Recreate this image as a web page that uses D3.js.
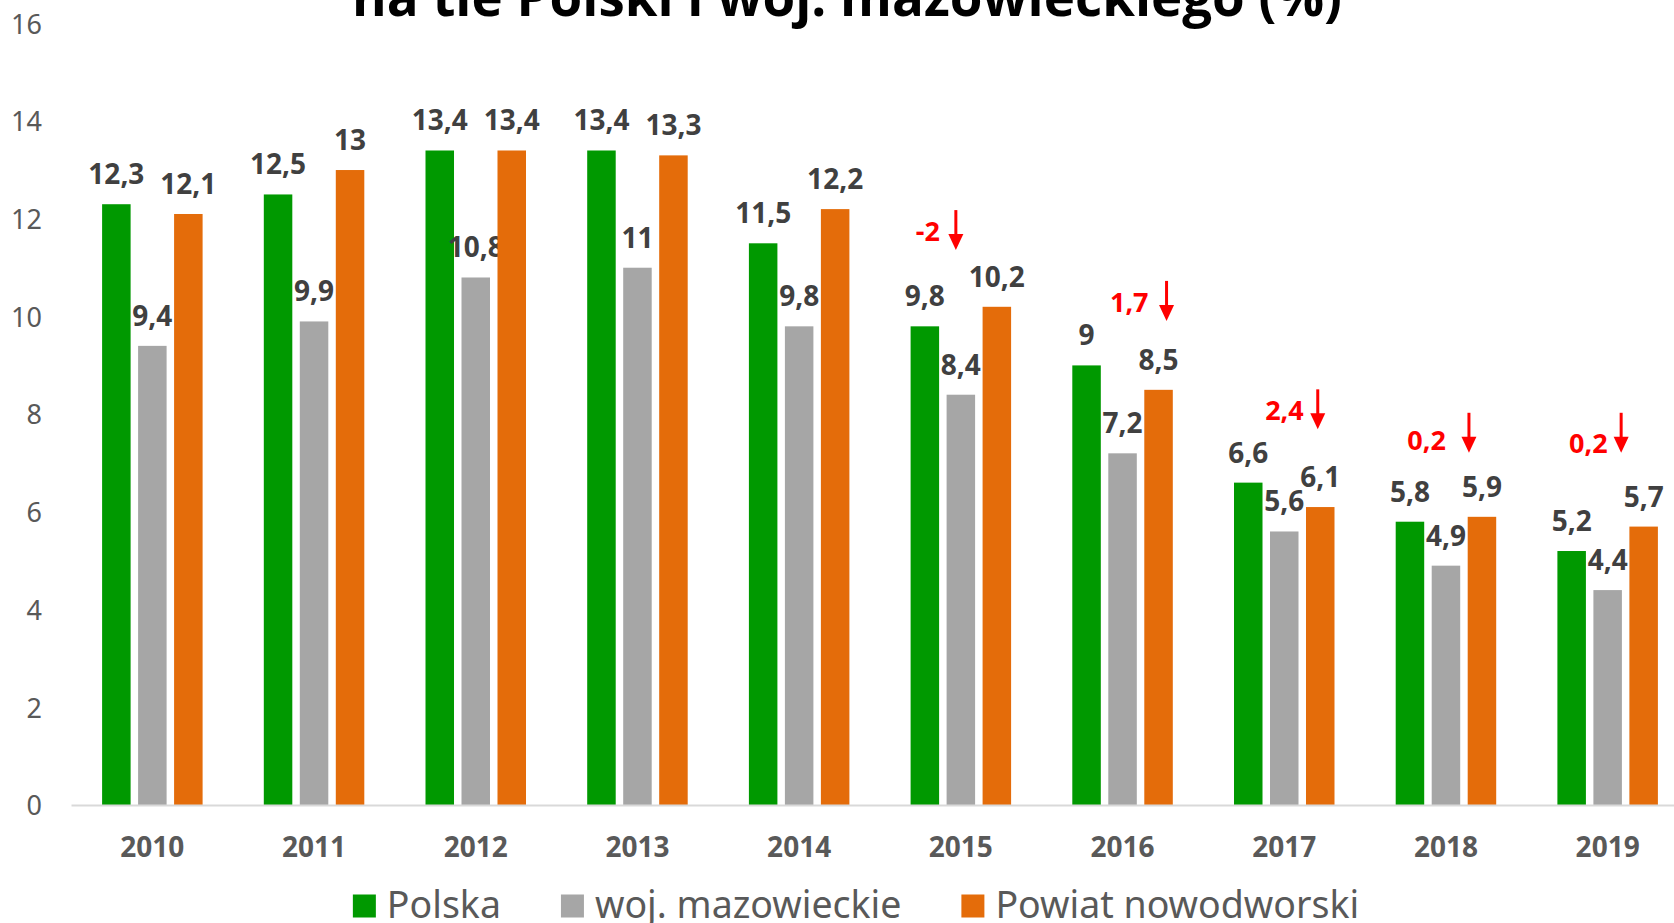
<!DOCTYPE html>
<html>
<head>
<meta charset="utf-8">
<script src="https://cdn.jsdelivr.net/npm/d3@7"></script>
<style>
  html, body { margin: 0; padding: 0; background: #fff; overflow: hidden; }
  svg { display: block; }
</style>
</head>
<body>
<div id="chart"></div>
<script>
// Chart values
const years = ["2010", "2011", "2012", "2013", "2014", "2015", "2016", "2017", "2018", "2019"];
const seriesNames = ["Polska", "woj. mazowieckie", "Powiat nowodworski"];
const polska = [12.3, 12.5, 13.4, 13.4, 11.5, 9.8, 9, 6.6, 5.8, 5.2];
const mazowieckie = [9.4, 9.9, 10.8, 11, 9.8, 8.4, 7.2, 5.6, 4.9, 4.4];
const nowodworski = [12.1, 13, 13.4, 13.3, 12.2, 10.2, 8.5, 6.1, 5.9, 5.7];
const yTicks = [0, 2, 4, 6, 8, 10, 12, 14, 16];

// Year-on-year drop of the county rate, marked with red arrows
const annoYears = ["2015", "2016", "2017", "2018", "2019"];
const annoLabels = ["-2", "1,7", "2,4", "0,2", "0,2"];
const annoTop = [12.18, 10.73, 8.51, 8.03, 8.03];

const titleText = "na tle Polski i woj. mazowieckiego (%)";

const colors = ["#009900", "#a6a6a6", "#e46c0a"];
const seriesValues = [polska, mazowieckie, nowodworski];

const width = 1674;
const height = 923;

const svg = d3.select("#chart")
  .append("svg")
  .attr("width", width)
  .attr("height", height);

const fmt = (v) => String(v).replace(".", ",");

// Scales
const x0 = d3.scaleBand()
  .domain(years)
  .range([71.5, 71.5 + 161.7 * years.length]);

const x1 = d3.scaleBand()
  .domain(seriesNames)
  .range([-50.25, 50.25])
  .paddingInner(0.208);

const y = d3.scaleLinear()
  .domain([0, 16])
  .range([805, 23.5]);

const center = (yr) => x0(yr) + x0.bandwidth() / 2;

// Title (only its last line is inside the frame)
svg.append("text")
  .attr("x", 847)
  .attr("y", 16)
  .attr("text-anchor", "middle")
  .attr("textLength", 990)
  .attr("lengthAdjust", "spacingAndGlyphs")
  .style("font-family", "'Open Sans', sans-serif")
  .style("font-weight", "bold")
  .style("font-size", "53px")
  .style("fill", "#000")
  .text(titleText);

// Y axis labels
const yAxis = d3.axisLeft(y)
  .tickValues(yTicks)
  .tickSize(0)
  .tickPadding(0);

svg.append("g")
  .attr("transform", "translate(42,0)")
  .call(yAxis)
  .call((g) => g.select(".domain").remove())
  .selectAll("text")
  .attr("dy", "0.36em")
  .style("font-family", "'Noto Sans', sans-serif")
  .style("font-size", "27px")
  .style("fill", "#595959");

// Bars
const groups = svg.append("g")
  .selectAll("g")
  .data(years)
  .join("g")
  .attr("transform", (d) => `translate(${center(d)},0)`);

seriesNames.forEach((name, s) => {
  groups.append("rect")
    .attr("x", x1(name))
    .attr("width", x1.bandwidth())
    .attr("y", (d, i) => y(seriesValues[s][i]))
    .attr("height", (d, i) => y(0) - y(seriesValues[s][i]))
    .style("fill", colors[s]);

  // Value labels
  groups.append("text")
    .attr("x", x1(name) + x1.bandwidth() / 2)
    .attr("y", (d, i) => y(seriesValues[s][i]) - 20)
    .attr("text-anchor", "middle")
    .style("font-family", "'Noto Sans', sans-serif")
    .style("font-weight", "bold")
    .style("font-size", "28px")
    .style("fill", "#404040")
    .text((d, i) => fmt(seriesValues[s][i]));
});

// X axis line and year labels
const xAxis = d3.axisBottom(x0).tickSize(0).tickPadding(0);

const xg = svg.append("g")
  .attr("transform", `translate(0,${y(0)})`)
  .call(xAxis);

xg.select(".domain")
  .attr("d", `M71.5,0.5H${width + 20}`)
  .style("stroke", "#d9d9d9")
  .style("stroke-width", "2px");

xg.selectAll("text")
  .attr("y", 52)
  .attr("dy", 0)
  .style("font-family", "'Noto Sans', sans-serif")
  .style("font-weight", "bold")
  .style("font-size", "28px")
  .style("fill", "#595959");

// Red arrow annotations (hand-placed in the original)
const arrowDx = [-5, 44, 33.5, 23, 13.5];
const labelGap = [16, 18, 14, 23, 13.5];
const labelDrop = [31, 31, 31, 37, 40];
const arrowLen = 40;

annoYears.forEach((yr, i) => {
  const ax = center(yr) + arrowDx[i];
  const top = y(annoTop[i]);
  const tip = top + arrowLen;

  svg.append("line")
    .attr("x1", ax)
    .attr("x2", ax)
    .attr("y1", top)
    .attr("y2", tip - 12)
    .style("stroke", "#ff0000")
    .style("stroke-width", "3px");

  svg.append("path")
    .attr("d", `M${ax - 7.5},${tip - 16}L${ax + 7.5},${tip - 16}L${ax},${tip}Z`)
    .style("fill", "#ff0000");

  svg.append("text")
    .attr("x", ax - labelGap[i])
    .attr("y", top + labelDrop[i])
    .attr("text-anchor", "end")
    .style("font-family", "'Noto Sans', sans-serif")
    .style("font-weight", "bold")
    .style("font-size", "27px")
    .style("fill", "#ff0000")
    .text(annoLabels[i]);
});

// Legend
const legend = svg.append("g").attr("class", "legend");
let lx = 0;
seriesNames.forEach((name, s) => {
  const item = legend.append("g");
  item.append("rect")
    .attr("x", 0)
    .attr("y", -23.5)
    .attr("width", 23)
    .attr("height", 23)
    .style("fill", colors[s]);
  const t = item.append("text")
    .attr("x", 34)
    .attr("y", 0)
    .style("font-family", "'Noto Sans', sans-serif")
    .style("font-size", "37.5px")
    .style("fill", "#595959")
    .text(name);
  item.attr("transform", `translate(${lx},0)`);
  lx += 34 + t.node().getComputedTextLength() + 60;
});
const legendWidth = lx - 60;
legend.attr("transform", `translate(${856 - legendWidth / 2},918)`);
</script>
</body>
</html>
